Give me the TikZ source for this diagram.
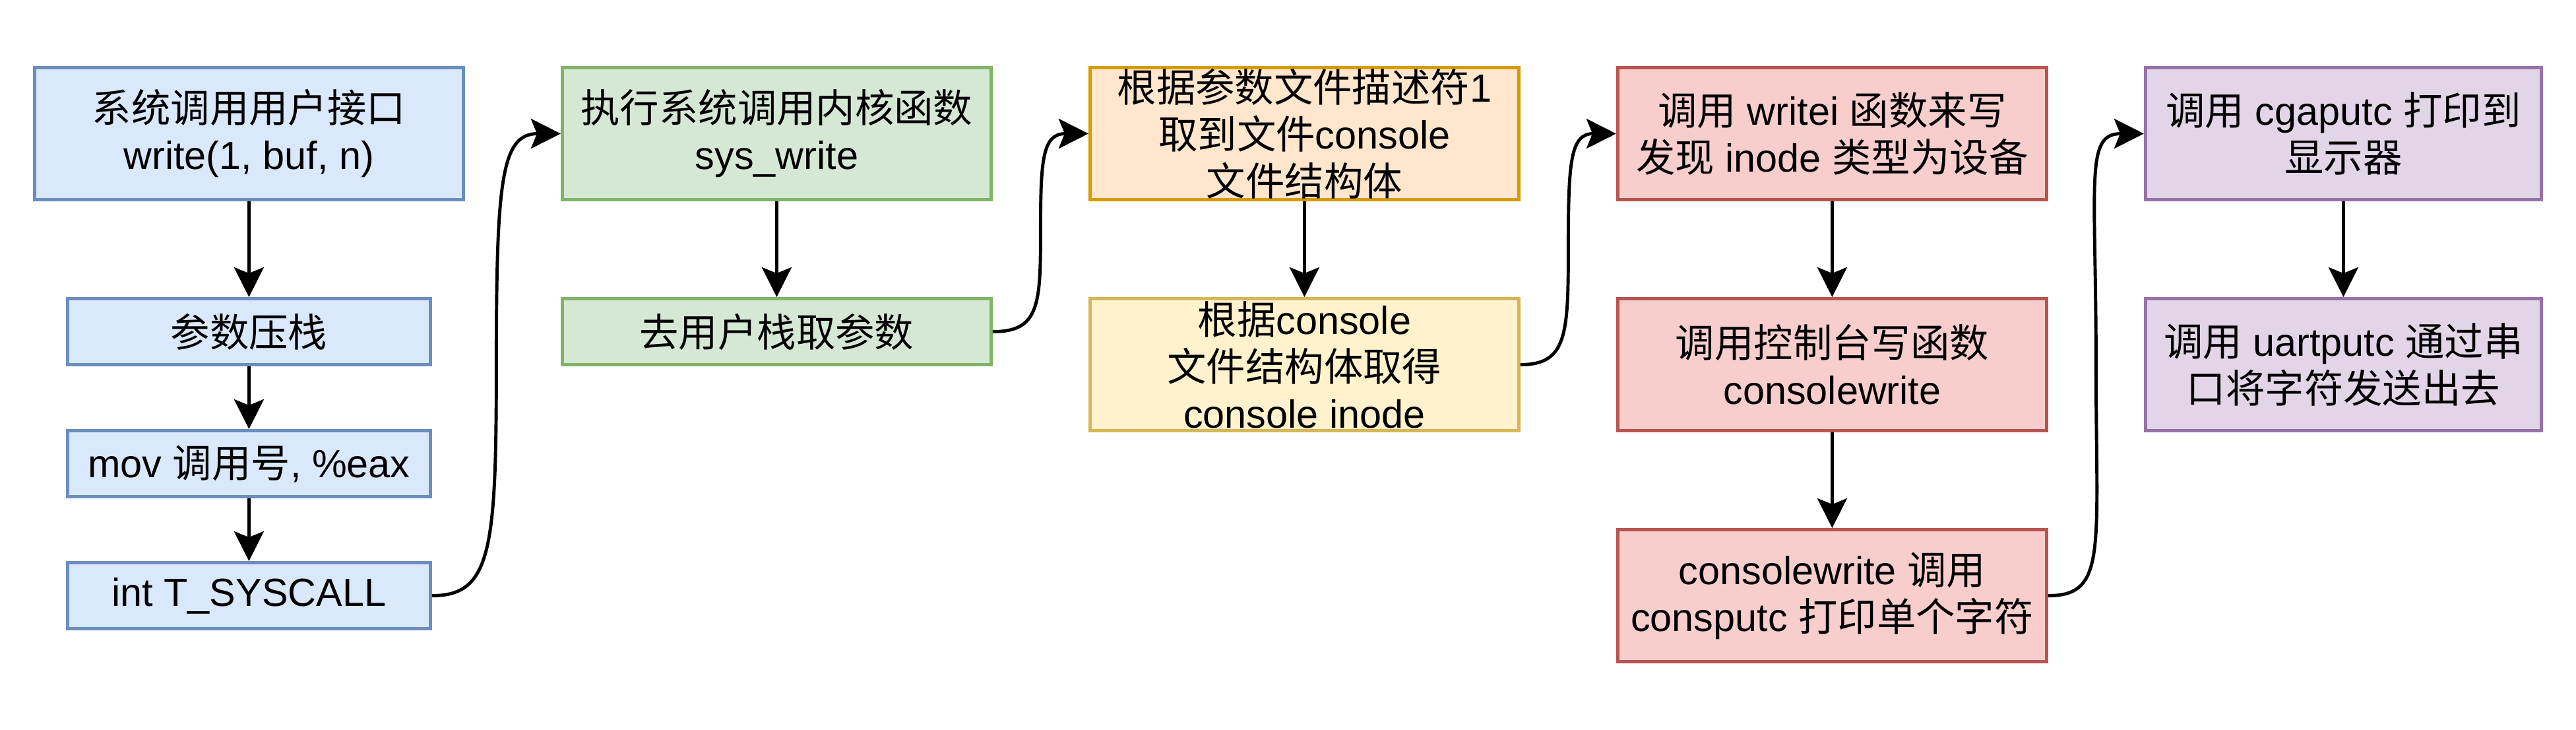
\documentclass[tikz,border=0pt]{standalone}
\usepackage{fontspec}
\setmainfont{Liberation Sans}
\newfontfamily\cjk{Noto Sans CJK SC}
\newcommand{\zh}[1]{{\cjk #1}}
\usetikzlibrary{arrows.meta, calc}
\definecolor{bluefill}{HTML}{DAE8FC}\definecolor{blueline}{HTML}{6C8EBF}
\definecolor{greenfill}{HTML}{D5E8D4}\definecolor{greenline}{HTML}{82B366}
\definecolor{orangefill}{HTML}{FFE6CC}\definecolor{orangeline}{HTML}{D79B00}
\definecolor{yellowfill}{HTML}{FFF2CC}\definecolor{yellowline}{HTML}{D6B656}
\definecolor{redfill}{HTML}{F8CECC}\definecolor{redline}{HTML}{B85450}
\definecolor{purplefill}{HTML}{E1D5E7}\definecolor{purpleline}{HTML}{9673A6}
\tikzstyle{box} = [rectangle, minimum width=6.5cm, minimum height=2cm, inner sep=0pt, align=center, line width=1.4pt, font=\fontsize{16.9}{20.2}\selectfont]
\tikzstyle{small} = [box, minimum width=5.5cm, minimum height=1cm]
\tikzstyle{user} = [draw=blueline, fill=bluefill]
\tikzstyle{kernel} = [box, draw=greenline, fill=greenfill]
\tikzstyle{filebox} = [box, draw=orangeline, fill=orangefill]
\tikzstyle{inodebox} = [box, draw=yellowline, fill=yellowfill]
\tikzstyle{console} = [box, draw=redline, fill=redfill]
\tikzstyle{device} = [box, minimum width=6cm, draw=purpleline, fill=purplefill]
\tikzstyle{arrow} = [line width=1.4pt, -{Stealth[length=4.5mm, width=4.5mm, inset=0.9mm]}]

\begin{document}
\begin{tikzpicture}[node distance=8cm]
	\useasboundingbox (0,0) rectangle (39.05,-11.05);
	% user space
	\node (api) [box, user] at (3.774,-2.025) {\zh{系统调用用户接口}\\write(1, buf, n)};
	\node (push) [small, user, node distance=3cm, below of=api] {\zh{参数压栈}};
	\node (mov) [small, user, node distance=2cm, below of=push] {mov \zh{调用号}, \%eax};
	\node (trap) [small, user, node distance=2cm, below of=mov] {int T\_SYSCALL};
	\draw [arrow] (api) -- (push);
	\draw [arrow] (push) -- (mov);
	\draw [arrow] (mov) -- (trap);

	% kernel
	\node (syswrite) [kernel, right of=api] {\zh{执行系统调用内核函数}\\sys\_write};
	\node (getarg) [kernel, minimum height=1cm, node distance=3cm, below of=syswrite] {\zh{去用户栈取参数}};
	\draw [arrow] (trap.east) .. controls +(0.9,0) and +(0,-2.8) .. ($(trap.east)!0.5!(syswrite.west)$) .. controls +(0,2.8) and +(-0.9,0) .. (syswrite.west);
	\draw [arrow] (syswrite) -- (getarg);

	\node (fd) [filebox, right of=syswrite] {\zh{根据参数文件描述符}1\\\zh{取到文件}console\\\zh{文件结构体}};
	\node (inode) [inodebox, node distance=3.5cm, below of=fd] {\zh{根据}console\\\zh{文件结构体取得}\\console inode};
	\draw [arrow] (getarg.east) .. controls +(0.7,0) and +(0,-1.1) .. ($(getarg.east)!0.5!(fd.west)$) .. controls +(0,1.1) and +(-0.7,0) .. (fd.west);
	\draw [arrow] (fd) -- (inode);

	% console driver
	\node (writei) [console, right of=fd] {\zh{调用} writei \zh{函数来写}\\\zh{发现} inode \zh{类型为设备}};
	\node (conwrite) [console, node distance=3.5cm, below of=writei] {\zh{调用控制台写函数}\\consolewrite};
	\node (putc) [console, node distance=3.5cm, below of=conwrite] {consolewrite \zh{调用}\\consputc \zh{打印单个字符}};
	\draw [arrow] (inode.east) .. controls +(0.7,0) and +(0,-1.3) .. ($(inode.east)!0.5!(writei.west)$) .. controls +(0,1.3) and +(-0.7,0) .. (writei.west);
	\draw [arrow] (writei) -- (conwrite);
	\draw [arrow] (conwrite) -- (putc);

	% devices
	\node (cga) [device, node distance=7.75cm, right of=writei] {\zh{调用} cgaputc \zh{打印到}\\\zh{显示器}};
	\node (uart) [device, node distance=3.5cm, below of=cga] {\zh{调用} uartputc \zh{通过串}\\\zh{口将字符发送出去}};
	\draw [arrow] (putc.east) .. controls +(0.9,0) and +(0,-2.8) .. ($(putc.east)!0.5!(cga.west)$) .. controls +(0,2.8) and +(-0.9,0) .. (cga.west);
	\draw [arrow] (cga) -- (uart);
\end{tikzpicture}
\end{document}
